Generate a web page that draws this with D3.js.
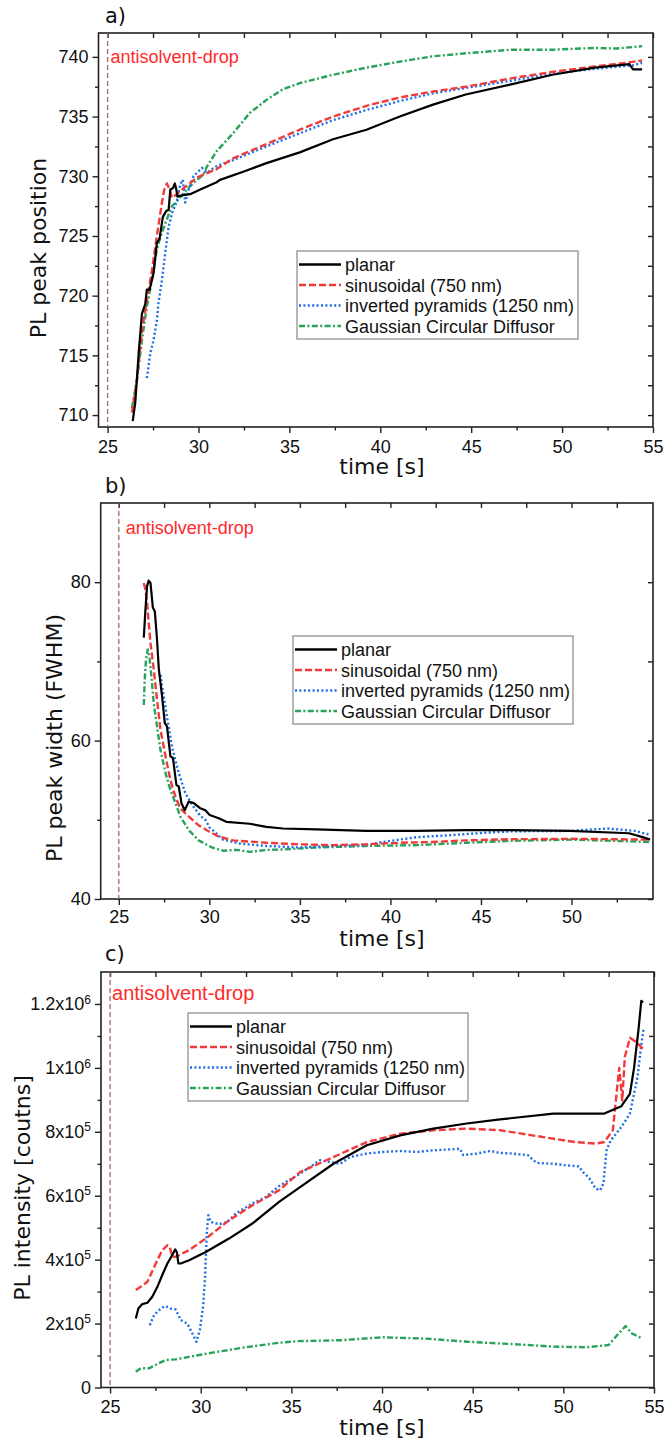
<!DOCTYPE html>
<html>
<head>
<meta charset="utf-8">
<script src="https://cdn.jsdelivr.net/npm/d3@7"></script>
<style>
  body { margin: 0; background: #fff; }
</style>
</head>
<body>
<svg id="chart" width="667" height="1442"></svg>
<script>
// legend names, same order in all three panels
const seriesNames = ["planar", "sinusoidal (750 nm)", "inverted pyramids (1250 nm)", "Gaussian Circular Diffusor"];

// a) PL peak position  [time s, nm]
const posPlanar = [[26.38,709.5],[26.52,711.0],[26.71,715.2],[26.89,718.5],[27.07,719.3],[27.16,720.5],[27.31,720.5],[27.53,721.9],[27.71,724.4],[27.86,724.8],[28.04,726.6],[28.23,727.1],[28.36,727.2],[28.45,728.9],[28.59,729.0],[28.7,729.4],[28.78,728.9],[28.84,728.3],[29.09,728.4],[29.54,728.5],[30.1,728.9],[31.0,729.5],[31.18,729.7],[32.5,730.4],[33.74,731.1],[35.57,732.0],[37.4,733.1],[39.24,733.9],[41.07,735.0],[42.9,736.0],[44.7,736.85],[47.2,737.7],[49.47,738.5],[51.8,739.1],[53.45,739.35],[53.7,739.4],[53.9,738.95],[54.4,738.95]];
const posSinus = [[26.34,710.2],[26.62,713.0],[26.89,717.1],[27.16,719.6],[27.44,722.1],[27.71,725.0],[27.99,727.8],[28.12,728.9],[28.26,729.4],[28.41,728.9],[28.54,728.2],[28.81,728.5],[29.18,729.0],[29.91,729.9],[31.0,730.6],[31.9,731.5],[33.74,732.7],[35.57,733.9],[37.4,735.0],[39.24,735.9],[41.07,736.6],[42.9,737.1],[44.7,737.5],[47.2,738.2],[49.5,738.75],[51.8,739.2],[53.5,739.5],[54.4,739.7]];
const posPyr = [[27.16,713.1],[27.35,715.2],[27.53,716.3],[27.71,717.9],[27.8,719.4],[27.99,721.3],[28.17,723.6],[28.36,725.8],[28.54,726.9],[28.81,727.9],[28.99,729.3],[29.14,729.7],[29.27,727.8],[29.46,728.9],[29.73,730.0],[30.19,730.7],[30.46,730.3],[31.0,730.85],[31.9,731.35],[33.74,732.5],[35.57,733.6],[37.4,734.7],[39.24,735.55],[41.07,736.3],[42.9,736.95],[44.7,737.4],[47.2,738.0],[49.5,738.6],[51.8,739.0],[53.9,739.3],[54.4,739.5]];
const posGauss = [[26.34,710.6],[26.62,713.0],[26.89,716.3],[27.16,719.1],[27.44,721.3],[27.71,723.9],[27.99,725.3],[28.26,726.4],[28.54,727.5],[28.81,727.9],[29.36,728.9],[29.91,729.7],[30.26,730.1],[30.46,730.8],[31.0,732.1],[31.9,733.6],[32.82,735.3],[33.74,736.4],[34.65,737.3],[35.57,737.8],[37.4,738.5],[39.24,739.1],[41.07,739.6],[42.9,740.05],[44.7,740.3],[47.2,740.6],[49.5,740.6],[51.8,740.75],[53.0,740.7],[54.4,740.9]];

// b) PL peak width (FWHM)
const widthPlanar = [[26.38,73.0],[26.47,76.5],[26.56,79.5],[26.65,80.2],[26.75,79.9],[26.88,76.8],[26.99,76.3],[27.11,72.8],[27.21,69.0],[27.39,65.6],[27.54,62.2],[27.66,61.8],[27.85,58.0],[27.99,57.8],[28.18,54.4],[28.31,54.2],[28.46,52.1],[28.64,51.2],[28.86,52.3],[29.14,52.1],[29.47,51.5],[29.78,51.2],[30.02,50.6],[30.52,50.2],[30.94,49.75],[32.23,49.5],[33.15,49.1],[34.06,48.9],[35.9,48.8],[38.66,48.6],[41.42,48.6],[44.18,48.7],[46.68,48.7],[49.9,48.6],[53.17,48.3],[53.88,47.85],[54.34,47.5]];
const widthSinus = [[26.38,79.9],[26.47,79.1],[26.56,77.4],[26.65,74.9],[26.75,72.3],[26.93,69.0],[27.11,65.2],[27.3,61.4],[27.58,58.0],[27.85,55.0],[28.13,52.9],[28.4,51.4],[28.77,50.6],[29.41,49.3],[30.0,48.5],[30.5,47.9],[31.3,47.4],[33.15,47.1],[34.98,46.9],[36.82,46.8],[38.66,46.9],[40.5,47.1],[42.33,47.2],[44.18,47.4],[46.68,47.55],[50.0,47.6],[54.34,47.5]];
const widthPyr = [[27.3,68.3],[27.48,65.6],[27.66,63.0],[27.94,59.2],[28.31,55.9],[28.68,53.3],[29.14,51.6],[29.5,50.5],[29.78,50.0],[30.02,49.0],[30.33,48.4],[30.75,47.5],[31.67,47.0],[33.15,46.7],[34.98,46.5],[36.82,46.7],[38.66,46.8],[39.58,47.2],[41.42,47.8],[43.26,48.05],[45.1,48.35],[46.68,48.55],[49.9,48.6],[52.0,48.9],[53.5,48.6],[54.34,48.1]];
const widthGauss = [[26.38,64.5],[26.43,67.7],[26.5,70.2],[26.6,71.5],[26.69,70.6],[26.8,68.1],[26.93,64.7],[27.11,61.8],[27.3,58.8],[27.58,55.9],[27.85,53.8],[28.13,52.1],[28.4,50.4],[28.86,48.7],[29.41,47.4],[30.15,46.5],[30.75,46.1],[31.5,46.2],[32.23,45.95],[33.2,46.2],[34.06,46.25],[35.9,46.5],[38.66,46.7],[41.42,46.8],[44.18,47.1],[46.68,47.35],[50.0,47.5],[54.34,47.2]];

// c) PL intensity
const intPlanar = [[26.42,2.16e5],[26.56,2.47e5],[26.78,2.61e5],[27.06,2.65e5],[27.33,2.84e5],[27.61,3.15e5],[27.88,3.52e5],[28.16,3.88e5],[28.4,4.11e5],[28.59,4.32e5],[28.68,4.24e5],[28.77,3.88e5],[28.9,3.88e5],[29.36,3.98e5],[30.28,4.24e5],[31.56,4.66e5],[32.85,5.13e5],[34.32,5.81e5],[35.48,6.27e5],[37.32,7.0e5],[39.16,7.58e5],[41.0,7.89e5],[42.83,8.1e5],[44.67,8.26e5],[46.51,8.39e5],[49.45,8.57e5],[52.26,8.57e5],[53.2,8.8e5],[53.67,9.19e5],[53.9,1.0e6],[54.14,1.117e6],[54.3,1.21e6],[54.4,1.205e6]];
const intSinus = [[26.42,3.05e5],[26.69,3.15e5],[27.06,3.31e5],[27.52,3.88e5],[27.88,4.3e5],[28.16,4.45e5],[28.29,4.4e5],[28.44,4.09e5],[28.62,4.09e5],[29.36,4.3e5],[30.28,4.66e5],[31.56,5.23e5],[32.85,5.7e5],[34.32,6.17e5],[35.48,6.74e5],[37.32,7.21e5],[39.16,7.68e5],[41.0,7.94e5],[42.83,8.05e5],[44.67,8.1e5],[46.51,8.05e5],[48.28,7.89e5],[50.62,7.68e5],[51.79,7.63e5],[52.26,7.68e5],[52.73,8.05e5],[53.08,1.0e6],[53.25,8.98e5],[53.39,1.034e6],[53.67,1.094e6],[54.02,1.081e6],[54.38,1.06e6]];
const intPyr = [[27.19,1.95e5],[27.43,2.27e5],[27.7,2.42e5],[28.03,2.55e5],[28.35,2.47e5],[28.62,2.44e5],[28.9,2.11e5],[29.26,2.0e5],[29.54,1.69e5],[29.76,1.43e5],[29.95,1.8e5],[30.13,2.53e5],[30.24,3.46e5],[30.33,4.82e5],[30.42,5.39e5],[30.55,5.18e5],[31.01,5.11e5],[31.47,5.18e5],[31.93,5.44e5],[32.85,5.76e5],[33.59,5.96e5],[34.32,6.3e5],[35.48,6.69e5],[36.58,7.11e5],[37.69,7.0e5],[38.24,7.21e5],[39.16,7.32e5],[40.07,7.37e5],[41.0,7.4e5],[41.92,7.37e5],[42.83,7.42e5],[43.75,7.45e5],[44.3,7.47e5],[44.48,7.27e5],[45.22,7.32e5],[45.96,7.4e5],[46.51,7.34e5],[47.17,7.32e5],[48.04,7.27e5],[48.51,7.03e5],[49.45,7.0e5],[50.15,6.95e5],[50.85,6.92e5],[51.09,6.74e5],[51.44,6.54e5],[51.79,6.22e5],[52.03,6.17e5],[52.21,6.38e5],[52.38,7.42e5],[52.61,7.73e5],[53.2,8.15e5],[53.67,8.57e5],[53.9,9.19e5],[54.09,9.71e5],[54.26,1.055e6],[54.42,1.122e6]];
const intGauss = [[26.42,0.49e5],[26.69,0.6e5],[27.15,0.6e5],[27.7,0.76e5],[28.07,0.86e5],[28.62,0.88e5],[29.36,0.96e5],[30.64,1.09e5],[32.48,1.26e5],[34.32,1.4e5],[35.36,1.45e5],[37.71,1.48e5],[40.06,1.57e5],[42.4,1.53e5],[44.75,1.43e5],[47.1,1.36e5],[49.45,1.28e5],[51.32,1.26e5],[52.5,1.33e5],[53.08,1.71e5],[53.43,1.92e5],[53.79,1.69e5],[54.33,1.54e5]];

// ticks
const timeTicks = [25, 30, 35, 40, 45, 50, 55];
const timeTicksB = [25, 30, 35, 40, 45, 50];
const posTicks = [710, 715, 720, 725, 730, 735, 740];
const widthTicks = [40, 60, 80];
const intTicks = [0, 2e5, 4e5, 6e5, 8e5, 1e6, 1.2e6];
const dropTime = 25;

// line styles
const colors = ["#000000", "#f23a3a", "#1d6ee6", "#27a35a"];
const dashes = [null, "7,3", "2,2.4", "6,2.4,2,2.4"];

const svg = d3.select("#chart");
const tickFont = "'Liberation Sans', Arial, sans-serif";
const labelFont = "'DejaVu Sans', Verdana, sans-serif";

function drawPanel(p) {
    const g = svg.append("g");
    const x = d3.scaleLinear().domain(p.xDomain).range(p.xRange);
    const y = d3.scaleLinear().domain(p.yDomain).range(p.yRange);
    const [x0, x1] = p.xRange;
    const [yb, yt] = p.yRange;

    // minor ticks halfway between majors
    const xMinor = p.xTicks.map(d => d + 2.5).filter(d => d < p.xDomain[1]);
    const yMinor = p.yMinor;

    // bottom axis (outward)
    g.append("g").attr("transform", `translate(0,${yb})`)
        .call(d3.axisBottom(x).tickValues(p.xTicks).tickSize(6).tickPadding(p.xPad).tickFormat(d3.format("d")));
    g.append("g").attr("transform", `translate(0,${yb})`)
        .call(d3.axisBottom(x).tickValues(xMinor).tickSize(3.5).tickFormat(""));
    // left axis (outward)
    const left = g.append("g").attr("transform", `translate(${x0},0)`)
        .call(d3.axisLeft(y).tickValues(p.yTicks).tickSize(6).tickPadding(4).tickFormat(d3.format("d")));
    g.append("g").attr("transform", `translate(${x0},0)`)
        .call(d3.axisLeft(y).tickValues(yMinor).tickSize(3.5).tickFormat(""));
    // top and right mirror ticks (inward)
    g.append("g").attr("transform", `translate(0,${yt})`)
        .call(d3.axisTop(x).tickValues(p.xTicks.concat(xMinor)).tickSize(-5).tickFormat(""));
    g.append("g").attr("transform", `translate(${x1},0)`)
        .call(d3.axisRight(y).tickValues(p.yTicks.concat(yMinor)).tickSize(-5).tickFormat(""));

    g.selectAll(".domain").remove();
    g.selectAll(".tick line").attr("stroke", "#222").attr("stroke-width", 1.4);
    g.selectAll(".tick text").attr("fill", "#111").style("font-family", tickFont).style("font-size", "18px");

    if (p.superscript) {
        left.selectAll(".tick text").each(function(d) {
            const t = d3.select(this).text("");
            if (d === 0) { t.text("0"); return; }
            const e = Math.floor(Math.log10(d));
            const m = +(d / Math.pow(10, e)).toFixed(1);
            t.append("tspan").text(m + "x10");
            t.append("tspan").attr("dy", "-0.55em").style("font-size", "12px").text(e);
        });
    }

    // frame
    g.append("rect").attr("x", x0).attr("y", yt).attr("width", x1 - x0).attr("height", yb - yt)
        .attr("fill", "none").attr("stroke", "#222").attr("stroke-width", 1.6);

    // antisolvent drop marker
    g.append("line")
        .attr("x1", x(dropTime)).attr("x2", x(dropTime))
        .attr("y1", yt).attr("y2", yb)
        .attr("stroke", "#9c6b6b").attr("stroke-width", 1.3).attr("stroke-dasharray", "5,3");
    g.append("text")
        .attr("x", x(dropTime) + p.dropDx).attr("y", p.dropY)
        .style("font-family", tickFont).style("font-size", p.dropSize + "px")
        .attr("fill", "#ff2a2a")
        .text("antisolvent-drop");

    // data lines
    const line = d3.line().x(d => x(d[0])).y(d => y(d[1]));
    const clipId = "clip" + p.id;
    g.append("clipPath").attr("id", clipId).append("rect")
        .attr("x", x0).attr("y", yt).attr("width", x1 - x0).attr("height", yb - yt);
    const order = [3, 2, 1, 0];
    order.forEach(i => {
        g.append("path")
            .datum(p.series[i])
            .attr("clip-path", `url(#${clipId})`)
            .attr("fill", "none")
            .attr("stroke", colors[i])
            .attr("stroke-width", i === 0 ? 2.2 : 2.4)
            .attr("stroke-dasharray", dashes[i])
            .attr("stroke-linejoin", "round")
            .attr("d", line);
    });

    // legend
    const lg = g.append("g").attr("transform", `translate(${p.legend[0]},${p.legend[1]})`);
    lg.append("rect").attr("width", p.legend[2]).attr("height", 88)
        .attr("fill", "#fff").attr("stroke", "#888").attr("stroke-width", 1.2);
    seriesNames.forEach((name, i) => {
        const cy = 13.5 + i * 20.5;
        lg.append("line").attr("x1", 2).attr("x2", 44).attr("y1", cy).attr("y2", cy)
            .attr("stroke", colors[i]).attr("stroke-width", i === 0 ? 2.6 : 2.4)
            .attr("stroke-dasharray", dashes[i]);
        lg.append("text").attr("x", 48).attr("y", cy + 6.5)
            .style("font-family", tickFont).style("font-size", "18px").attr("fill", "#111")
            .text(name);
    });

    // axis titles and panel letter
    g.append("text").attr("x", 382).attr("y", yb + p.xLabelDy)
        .attr("text-anchor", "middle")
        .style("font-family", labelFont).style("font-size", "22px").attr("fill", "#111")
        .text("time [s]");
    g.append("text")
        .attr("transform", `translate(${p.yLabelPos[0]},${p.yLabelPos[1]}) rotate(-90)`)
        .attr("text-anchor", "middle")
        .style("font-family", labelFont).style("font-size", "22px").attr("fill", "#111")
        .text(p.yLabel);
    g.append("text").attr("x", 105).attr("y", p.letterY)
        .style("font-family", labelFont).style("font-size", "21px").attr("fill", "#111")
        .text(p.letter);
}

drawPanel({
    id: "a", letter: "a)", letterY: 23,
    series: [posPlanar, posSinus, posPyr, posGauss],
    xDomain: [24.5, 55], xRange: [98.5, 653],
    yDomain: [709, 742], yRange: [427, 33],
    xTicks: timeTicks, yTicks: posTicks, yMinor: posTicks.map(d => d + 2.5).filter(d => d < 742),
    yLabel: "PL peak position", yLabelPos: [46, 248],
    xPad: 7, xLabelDy: 47,
    dropDx: 3, dropY: 63, dropSize: 18,
    legend: [297, 251, 281]
});

drawPanel({
    id: "b", letter: "b)", letterY: 493,
    series: [widthPlanar, widthSinus, widthPyr, widthGauss],
    xDomain: [24, 54.5], xRange: [100.7, 653],
    yDomain: [40, 90], yRange: [899, 503],
    xTicks: timeTicksB, yTicks: widthTicks, yMinor: [50, 70],
    yLabel: "PL peak width (FWHM)", yLabelPos: [62, 738],
    xPad: 5, xLabelDy: 47,
    dropDx: 7, dropY: 534, dropSize: 18,
    legend: [293, 636, 280]
});

drawPanel({
    id: "c", letter: "c)", letterY: 961,
    series: [intPlanar, intSinus, intPyr, intGauss],
    xDomain: [24.5, 55], xRange: [101, 654],
    yDomain: [0, 1.3e6], yRange: [1387.5, 972],
    xTicks: timeTicks, yTicks: intTicks, yMinor: [1e5, 3e5, 5e5, 7e5, 9e5, 1.1e6],
    superscript: true,
    yLabel: "PL intensity [coutns]", yLabelPos: [30, 1188],
    xPad: 7, xLabelDy: 47,
    dropDx: 2, dropY: 1000, dropSize: 20,
    legend: [188, 1013, 280]
});
</script>
</body>
</html>
